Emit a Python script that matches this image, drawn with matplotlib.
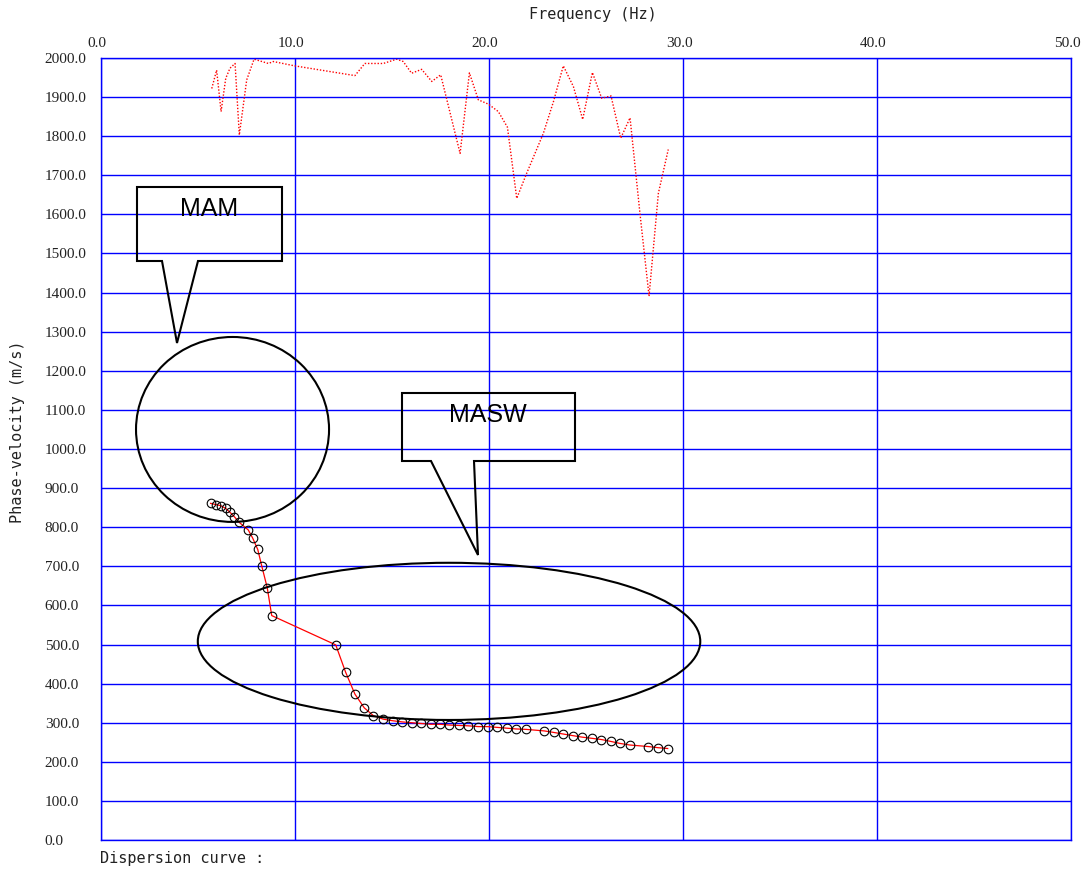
import numpy as np
import matplotlib
matplotlib.use('Agg')
import matplotlib.pyplot as plt
from matplotlib.patches import Ellipse, Polygon
import matplotlib.transforms as mtransforms

# dotted curve at the top (noise / upper branch)
noise_freq = [5.71, 5.96, 6.19, 6.43, 6.65, 6.91, 7.13, 7.51, 7.89, 8.63, 8.88,
              9.97, 13.09, 13.60, 14.55, 15.24, 15.58, 16.01, 16.53, 17.05, 17.51,
              18.51, 18.99, 19.45, 19.97, 20.48, 20.95, 21.43, 21.94, 22.80, 23.32,
              23.83, 24.35, 24.83, 25.33, 25.81, 26.29, 26.79, 27.27, 27.78, 28.25,
              28.73, 29.24]
noise_vel = [1922, 1969, 1863, 1948, 1974, 1986, 1803, 1944, 1997, 1986, 1991,
             1980, 1955, 1986, 1986, 1997, 1991, 1961, 1971, 1940, 1957,
             1756, 1962, 1893, 1882, 1863, 1823, 1641, 1705, 1807, 1888,
             1980, 1927, 1843, 1963, 1897, 1903, 1795, 1847, 1603, 1391,
             1654, 1766]

# picked dispersion curve
disp_freq = [5.65, 5.91, 6.17, 6.43, 6.65, 6.87, 7.11, 7.59, 7.82, 8.08, 8.28,
             8.57, 8.80, 12.10, 12.61, 13.09, 13.57, 14.04, 14.55, 15.03, 15.53,
             16.01, 16.49, 16.99, 17.47, 17.95, 18.45, 18.93, 19.45, 19.93, 20.43,
             20.91, 21.39, 21.89, 22.85, 23.35, 23.83, 24.31, 24.81, 25.31, 25.79,
             26.29, 26.75, 27.25, 28.21, 28.73, 29.21]
disp_vel = [861, 858, 855, 848, 838, 827, 813, 793, 772, 743, 702,
            645, 574, 499, 429, 373, 338, 318, 309, 305, 302,
            300, 298, 296, 296, 294, 293, 292, 290, 290, 288,
            286, 284, 283, 279, 275, 271, 267, 263, 260, 257,
            252, 247, 243, 239, 236, 234]

x_ticks = [0, 10, 20, 30, 40, 50]
y_ticks = list(range(0, 2001, 100))

W, H = 1089, 872
fig = plt.figure(figsize=(W / 100, H / 100), dpi=100)


def px(x, y):
    return (x / W, 1 - y / H)


ax = fig.add_axes([101 / W, (H - 840) / H, 970 / W, 782 / H])
ax.set_xlim(0, 50)
ax.set_ylim(0, 2000)

ax.xaxis.tick_top()
ax.set_xticks(x_ticks)
ax.set_xticklabels(['%.1f' % v for v in x_ticks], family='Liberation Serif', fontsize=11)
ax.set_yticks(y_ticks)
ax.set_yticklabels(['%.1f' % v for v in y_ticks], family='Liberation Serif', fontsize=11)
ax.tick_params(axis='x', length=0, pad=6, colors='#222222')
ax.tick_params(axis='y', length=0, pad=40.5, colors='#222222')
for lab in ax.get_yticklabels():
    lab.set_horizontalalignment('left')
off = mtransforms.ScaledTranslation(-4 / 100, 0, fig.dpi_scale_trans)
for lab in ax.get_xticklabels():
    lab.set_transform(lab.get_transform() + off)

ax.grid(True, color='#0000ff', linewidth=1.0)
for s in ax.spines.values():
    s.set_color('#0000ff')
    s.set_linewidth(1.0)

ax.plot(noise_freq, noise_vel, color='red', linewidth=1.0, linestyle=(0, (1, 1.3)))
ax.plot(disp_freq, disp_vel, color='red', linewidth=0.9, zorder=3)
ax.plot(disp_freq, disp_vel, linestyle='none', marker='o', markersize=6.2,
        markerfacecolor='none', markeredgecolor='black', markeredgewidth=0.8, zorder=4)

# annotation ellipses
ax.add_patch(Ellipse((6.78, 1050), 9.95, 473, fill=False, edgecolor='black', linewidth=1.5, zorder=5))
ax.add_patch(Ellipse((17.94, 508), 25.9, 402, fill=False, edgecolor='black', linewidth=1.5, zorder=5))

# callout boxes (figure pixel layout)
mam = [(137, 187), (282, 187), (282, 261), (198, 261), (177, 343), (162, 261), (137, 261)]
masw = [(402, 393), (575, 393), (575, 461), (474, 461), (478, 555), (431, 461), (402, 461)]
for shape in (mam, masw):
    fig.patches.append(Polygon([px(*p) for p in shape], closed=True, fill=False,
                               edgecolor='black', linewidth=1.5,
                               transform=fig.transFigure, figure=fig))
fig.text(*px(209, 209), 'MAM', family='Liberation Sans', fontsize=18, ha='center', va='center')
fig.text(*px(488, 415), 'MASW', family='Liberation Sans', fontsize=18, ha='center', va='center')

fig.text(*px(593, 15), 'Frequency (Hz)', family='DejaVu Sans Mono', fontsize=11,
         ha='center', va='center', color='#222222')
fig.text(*px(18, 432), 'Phase-velocity (m/s)', family='DejaVu Sans Mono', fontsize=11,
         ha='center', va='center', rotation=90, color='#222222')
fig.text(*px(100, 858), 'Dispersion curve :', family='DejaVu Sans Mono', fontsize=11,
         ha='left', va='center', color='#222222')

fig.savefig('out.png', dpi=100)
